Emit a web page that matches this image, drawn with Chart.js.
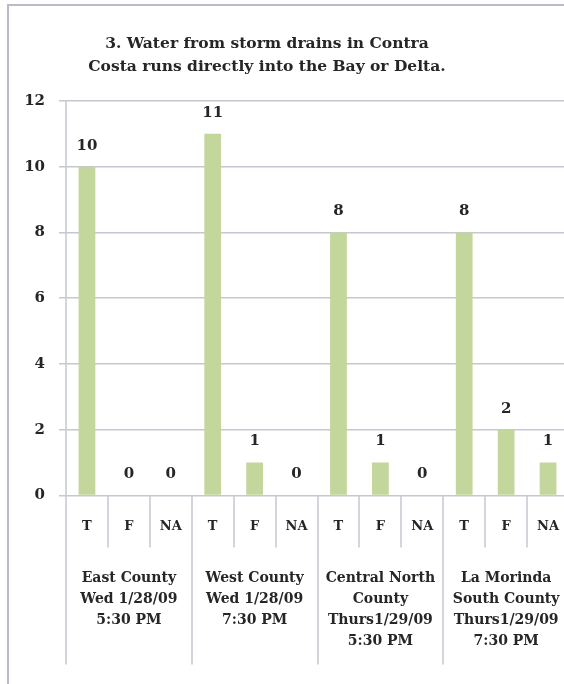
<!DOCTYPE html>
<html>
<head>
<meta charset="utf-8">
<script src="https://cdn.jsdelivr.net/npm/chart.js@4.4.1/dist/chart.umd.min.js"></script>
<style>
  body { margin: 0; overflow: hidden; background: #fff; }
  canvas { display: block; }
</style>
</head>
<body>
<canvas id="chart" width="580" height="684"></canvas>
<script>
// data
const titleLines = ['3. Water from storm drains in Contra', 'Costa runs directly into the Bay or Delta.'];
const answers = ['T', 'F', 'NA'];
const groupLabels = [
  ['East County', 'Wed 1/28/09', '5:30 PM'],
  ['West County', 'Wed 1/28/09', '7:30 PM'],
  ['Central North', 'County', 'Thurs1/29/09', '5:30 PM'],
  ['La Morinda', 'South County', 'Thurs1/29/09', '7:30 PM']
];
const eastCounty = [10, 0, 0];
const westCounty = [11, 1, 0];
const centralNorth = [8, 1, 0];
const laMorinda = [8, 2, 1];
const yMax = 12;
const yStep = 2;

const labels = groupLabels.flatMap(() => answers);
const values = [...eastCounty, ...westCounty, ...centralNorth, ...laMorinda];

const serif = "'DejaVu Serif', 'Liberation Serif', serif";
const lineColor = '#c5c7d1';
const textColor = '#262626';

const decor = {
  id: 'decor',
  beforeDraw(chart) {
    const ctx = chart.ctx;
    ctx.save();
    ctx.fillStyle = '#fff';
    ctx.fillRect(0, 0, chart.width, chart.height);
    // outer frame (only left and top are inside the picture)
    ctx.strokeStyle = '#b9bcc8';
    ctx.lineWidth = 2;
    ctx.beginPath();
    ctx.moveTo(8, chart.height);
    ctx.lineTo(8, 5);
    ctx.lineTo(chart.width, 5);
    ctx.stroke();
    // title
    ctx.fillStyle = textColor;
    ctx.font = 'bold 15.5px ' + serif;
    ctx.textAlign = 'center';
    ctx.textBaseline = 'middle';
    titleLines.forEach((t, i) => ctx.fillText(t, 267, 44 + i * 23));
    ctx.restore();
  },
  afterDraw(chart) {
    const ctx = chart.ctx;
    const x = chart.scales.x;
    const area = chart.chartArea;
    const step = x.getPixelForValue(1) - x.getPixelForValue(0);
    ctx.save();
    // category / group separators below the axis
    ctx.strokeStyle = lineColor;
    ctx.lineWidth = 1.5;
    for (let i = 0; i <= labels.length; i++) {
      const px = Math.round(x.getPixelForValue(i) - step / 2);
      const end = i % answers.length === 0 ? area.bottom + 169 : area.bottom + 52;
      ctx.beginPath();
      ctx.moveTo(px, i === 0 ? area.top : area.bottom);
      ctx.lineTo(px, end);
      ctx.stroke();
    }
    // group labels
    ctx.fillStyle = textColor;
    ctx.font = 'bold 14px ' + serif;
    ctx.textAlign = 'center';
    ctx.textBaseline = 'middle';
    groupLabels.forEach((lines, g) => {
      const cx = x.getPixelForValue(g * answers.length + 1);
      lines.forEach((t, i) => ctx.fillText(t, cx, area.bottom + 83 + i * 21));
    });
    // value labels
    ctx.font = 'bold 15px ' + serif;
    const meta = chart.getDatasetMeta(0);
    meta.data.forEach((bar, i) => {
      ctx.fillText(String(values[i]), bar.x, bar.y - 21);
    });
    ctx.restore();
  }
};

new Chart(document.getElementById('chart').getContext('2d'), {
  type: 'bar',
  data: {
    labels: labels,
    datasets: [{
      data: values,
      backgroundColor: 'rgb(195, 214, 155)',
      borderWidth: 0,
      categoryPercentage: 1,
      barPercentage: 0.4
    }]
  },
  options: {
    responsive: false,
    animation: false,
    layout: {
      padding: { top: 101, right: 11, bottom: 135, left: 0 }
    },
    plugins: {
      legend: { display: false },
      title: { display: false },
      tooltip: { enabled: false }
    },
    scales: {
      x: {
        grid: { display: false },
        border: { display: false },
        ticks: {
          padding: 15,
          color: textColor,
          font: { family: serif, size: 13, weight: 'bold' }
        }
      },
      y: {
        min: 0,
        max: yMax,
        afterFit: (s) => { s.width = 66; },
        grid: { color: lineColor, lineWidth: 1.5, tickLength: 7 },
        border: { display: false },
        ticks: {
          stepSize: yStep,
          padding: 14,
          color: textColor,
          font: { family: serif, size: 15, weight: 'bold' }
        }
      }
    }
  },
  plugins: [decor]
});
</script>
</body>
</html>
